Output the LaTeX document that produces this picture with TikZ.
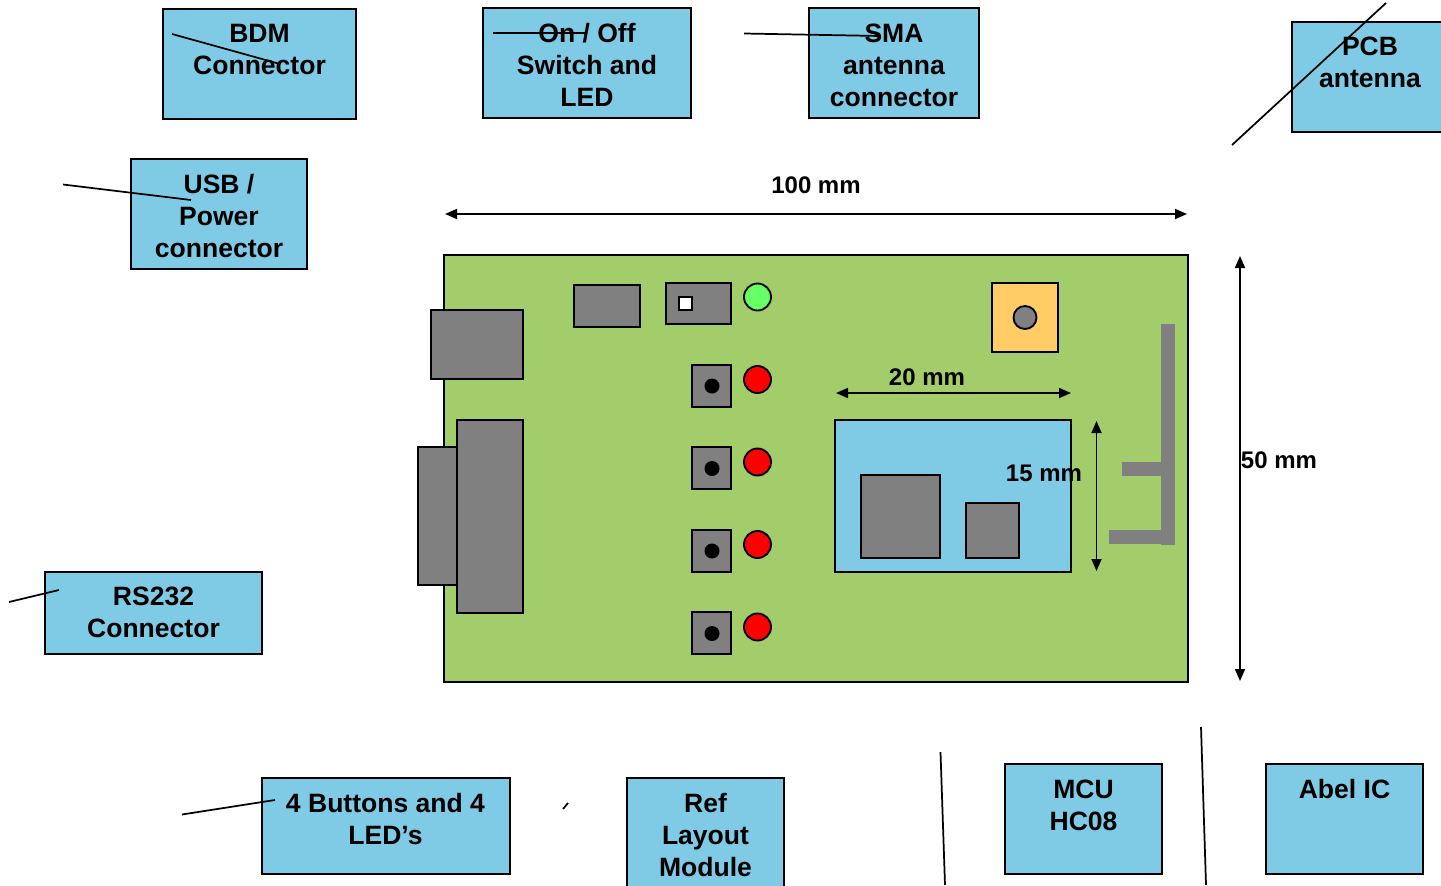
\documentclass[tikz,border=0pt]{standalone}
\usepackage{fontspec}
\setmainfont{Liberation Sans}
\usetikzlibrary{arrows.meta}
\definecolor{pcb}{HTML}{A2CD6A}
\definecolor{sky}{HTML}{7FCBE6}
\definecolor{part}{HTML}{808080}
\definecolor{jack}{HTML}{FFCC66}
\definecolor{ledg}{HTML}{66FF66}
\newcommand{\bx}[6]{\node[#1,minimum width={(#5-#3-0.4)*0.75pt},minimum height={(#6-#4-0.4)*0.75pt}] (#2) at ({(#3+#5)/2+0.2},{(#4+#6)/2+0.2}) {};}
\newcommand{\dotc}[5]{\node[#1,minimum size={#5*1.5pt}] (#2) at (#3,#4) {};}
\newcommand{\lab}[4]{\node[boxlabel] (#1) at (#2,#3) {\rule{0pt}{15pt}#4};}
\tikzset{
  x=0.75pt,y=-0.75pt,
  base/.style={rectangle,draw=black,line width=1.4pt,inner sep=0pt,outer sep=0pt},
  board/.style={base,fill=pcb},
  comp/.style={base,fill=part},
  info/.style={base,fill=sky},
  ant/.style={rectangle,fill=part,inner sep=0pt,outer sep=0pt},
  round/.style={circle,draw=black,line width=1.4pt,inner sep=0pt,outer sep=0pt},
  boxlabel/.style={anchor=north,align=center,inner sep=0pt,font=\fontsize{19.9pt}{24pt}\selectfont\bfseries},
  dimlabel/.style={anchor=base,inner sep=0pt,font=\fontsize{18pt}{22pt}\selectfont\bfseries},
  leader/.style={draw=black,line width=1.3pt},
  dimline/.style={draw=black,line width=1.3pt,{Triangle[length=9pt,width=7.5pt]}-{Triangle[length=9pt,width=7.5pt]}},
}
\begin{document}
\begin{tikzpicture}
\useasboundingbox (0,0) rectangle (1441,885);
\clip (0,0) rectangle (1441,885);
% board
\bx{board}{brd}{444}{255}{1188}{682}
\bx{comp}{usb}{431}{310}{523}{379}
\bx{comp}{dbshell}{418}{447}{458}{585}
\bx{comp}{dbbody}{457}{420}{523}{613}
\bx{comp}{bdm}{574}{285}{640}{327}
\bx{comp}{switch}{666}{283}{731}{324}
\node[base,fill=white,minimum width=9.5pt,minimum height=10pt] (knob) at (685.5,303.5) {};
\dotc{round,fill=ledg}{ledg}{757.5}{297}{13.5}
\dotc{round,fill=red}{leda}{757.5}{379.5}{13.5}
\dotc{round,fill=red}{ledb}{757.5}{462}{13.5}
\dotc{round,fill=red}{ledc}{757.5}{544.5}{13.5}
\dotc{round,fill=red}{ledd}{757.5}{627}{13.5}
\bx{comp}{btna}{692}{365}{731}{407}
\bx{comp}{btnb}{692}{447}{731}{489}
\bx{comp}{btnc}{692}{530}{731}{572}
\bx{comp}{btnd}{692}{612}{731}{654}
\dotc{circle,fill=black,inner sep=0pt}{capa}{712}{386}{7.5}
\dotc{circle,fill=black,inner sep=0pt}{capb}{712}{468.5}{7.5}
\dotc{circle,fill=black,inner sep=0pt}{capc}{712}{551}{7.5}
\dotc{circle,fill=black,inner sep=0pt}{capd}{712}{633.5}{7.5}
\bx{base,fill=jack}{sma}{992}{283}{1058}{352}
\dotc{round,fill=part}{smapin}{1025}{317.5}{11.5}
\bx{info}{module}{835}{420}{1071}{572}
\bx{comp}{mcu}{861}{475}{940}{558}
\bx{comp}{abel}{966}{503}{1019}{558}
\bx{ant}{anta}{1161}{324}{1175}{545}
\bx{ant}{antb}{1122}{462}{1161}{476}
\bx{ant}{antc}{1109}{530}{1161}{544}
% dimensions
\coordinate (hl) at (445,214); \coordinate (hr) at (1187,214);
\draw[dimline] (hl) -- (hr);
\coordinate (vt) at (1240,256); \coordinate (vb) at (1240,681);
\draw[dimline] (vt) -- (vb);
\coordinate (ml) at (836,393); \coordinate (mr) at (1071,393);
\draw[dimline] (ml) -- (mr);
\coordinate (mt) at (1096.5,421); \coordinate (mb) at (1096.5,571);
\draw[dimline] (mt) -- (mb);
\node[dimlabel] (dima) at (816,193) {100 mm};
\node[dimlabel] (dimb) at (1279,468) {50 mm};
\node[dimlabel] (dimc) at (927,385) {20 mm};
\node[dimlabel] (dimd) at (1044,481) {15 mm};
% info boxes
\bx{info}{ibdm}{163}{9}{356}{119}
\bx{info}{ion}{483}{8}{691}{118}
\bx{info}{isma}{809}{8}{979}{118}
\bx{info}{ipcb}{1292}{22}{1448}{132}
\bx{info}{iusb}{131}{159}{307}{269}
\bx{info}{irs}{45}{572}{262}{654}
\bx{info}{ibtn}{262}{778}{510}{874}
\bx{info}{iref}{627}{778}{784}{892}
\bx{info}{imcu}{1005}{764}{1162}{874}
\bx{info}{iabel}{1266}{764}{1423}{874}
\lab{tbdm}{259.5}{22}{BDM\\Connector}
\lab{ton}{587}{22}{On / Off\\Switch and\\LED}
\lab{tsma}{894}{22}{SMA\\antenna\\connector}
\lab{tpcb}{1370}{35}{PCB\\antenna}
\lab{tusb}{219}{173}{USB /\\Power\\connector}
\lab{trs}{153.5}{585}{RS232\\Connector}
\lab{tbtn}{385.5}{792}{4 Buttons and 4\\LED’s}
\lab{tref}{705.5}{792}{Ref\\Layout\\Module}
\lab{tmcu}{1083.5}{778}{MCU\\HC08}
\lab{tabel}{1344.5}{778}{Abel IC}
% leaders
\coordinate (la1) at (172,34); \coordinate (la2) at (280,64);
\draw[leader] (la1) -- (la2);
\coordinate (lb1) at (493,33); \coordinate (lb2) at (586,33);
\draw[leader] (lb1) -- (lb2);
\coordinate (lc1) at (744,33.5); \coordinate (lc2) at (880,36);
\draw[leader] (lc1) -- (lc2);
\coordinate (ld1) at (1232,145); \coordinate (ld2) at (1386,3);
\draw[leader] (ld1) -- (ld2);
\coordinate (le1) at (63,184.5); \coordinate (le2) at (191,200);
\draw[leader] (le1) -- (le2);
\coordinate (lf1) at (9,602); \coordinate (lf2) at (59,590);
\draw[leader] (lf1) -- (lf2);
\coordinate (lg1) at (182,814.5); \coordinate (lg2) at (275,800);
\draw[leader] (lg1) -- (lg2);
\coordinate (lh1) at (563,809); \coordinate (lh2) at (568,803);
\draw[leader] (lh1) -- (lh2);
\coordinate (li1) at (940.5,752); \coordinate (li2) at (945,885);
\draw[leader] (li1) -- (li2);
\coordinate (lj1) at (1201,727); \coordinate (lj2) at (1206,885);
\draw[leader] (lj1) -- (lj2);
\end{tikzpicture}
\end{document}
